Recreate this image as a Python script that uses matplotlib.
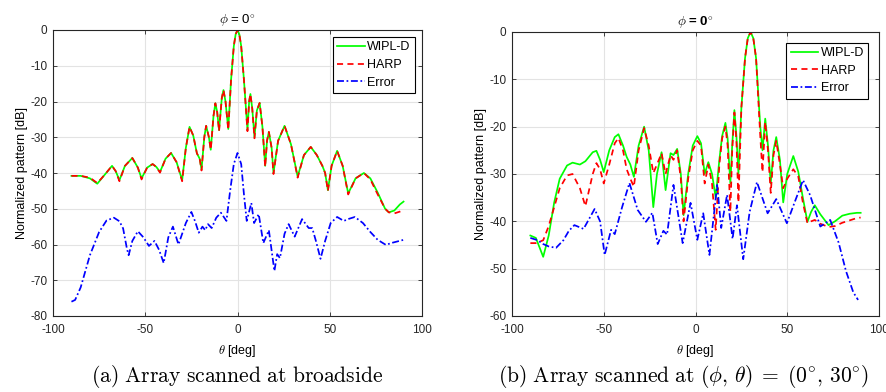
import matplotlib
matplotlib.use("Agg")
import matplotlib.pyplot as plt

plt.rcParams['font.family'] = ['Liberation Sans', 'DejaVu Sans']
plt.rcParams['mathtext.fontset'] = 'cm'
plt.rcParams['axes.unicode_minus'] = False

# ---------------- (a) broadside ----------------
a_theta = [-90, -85, -80, -76, -72, -68, -66, -64, -61, -57, -54, -52, -49, -46, -44, -42,
           -39, -36, -33, -30, -28, -26, -24, -22, -20.5, -19.5, -18, -17, -15.5, -14.5,
           -13, -12, -11, -10, -8.5, -7.6, -6.5, -5, -3.5, -2, -1, 0, 1, 2, 3.5, 5.4, 6.3,
           7, 8, 9.2, 10.5, 12, 13.5, 15, 16, 17, 18.5, 19.5, 22, 25.5, 29, 32.6, 36, 39.7,
           43, 46, 47.5, 49, 51, 54, 57, 60, 64, 68.5, 72, 76, 80, 82, 85, 88, 90]
a_wipl = [-40.8, -40.8, -41.5, -43.0, -40.5, -38.0, -39.5, -42.0, -38.0, -35.8, -38.5, -41.5,
          -38.5, -37.5, -38.3, -39.7, -36.0, -34.4, -37.0, -42.0, -33.0, -27.1, -29.5, -34.5,
          -36.0, -39.0, -30.0, -26.8, -30.0, -33.5, -24.0, -20.5, -23.0, -28.0, -19.0, -16.8,
          -20.0, -27.7, -14.0, -4.5, -1.2, 0.0, -1.2, -4.5, -14.0, -28.0, -20.0, -17.9, -22.0,
          -30.0, -22.5, -20.4, -27.0, -38.0, -31.0, -28.5, -33.0, -40.0, -31.0, -26.8, -32.0,
          -41.0, -35.0, -32.7, -35.0, -38.0, -40.0, -44.8, -38.0, -33.8, -38.0, -45.7, -41.5,
          -40.0, -41.5, -45.5, -50.0, -51.0, -50.5, -48.8, -48.0]
a_harp = [-40.8, -40.8, -41.3, -42.8, -40.5, -38.0, -39.5, -42.3, -38.0, -35.8, -38.5, -41.8,
          -38.5, -37.5, -38.3, -39.9, -36.0, -34.4, -37.0, -42.3, -33.0, -27.1, -29.5, -34.5,
          -36.0, -39.3, -30.0, -26.8, -30.0, -33.5, -24.0, -20.5, -23.0, -28.3, -19.0, -16.8,
          -20.0, -27.9, -14.0, -4.5, -1.2, 0.0, -1.2, -4.5, -14.0, -28.3, -20.0, -17.9, -22.0,
          -30.3, -22.5, -20.4, -27.0, -38.3, -31.0, -28.5, -33.0, -40.3, -31.0, -26.8, -32.0,
          -41.3, -35.0, -32.7, -35.0, -38.0, -40.0, -45.0, -38.0, -33.8, -38.0, -46.0, -41.5,
          -40.0, -41.8, -46.0, -50.0, -51.0, -51.3, -50.8, -50.3]
a_err_theta = [-90, -88, -85, -80, -75, -71, -67, -64, -62, -60, -59, -57, -54, -51, -48, -45,
               -42.5, -40, -37.5, -35, -32, -28, -25, -23, -21, -19, -17.5, -16, -14, -11.5,
               -9, -6, -4, -2, 0, 2, 3.5, 5, 7.5, 9, 11.5, 14, 17, 20, 21.5, 23, 25.5, 27.7,
               31, 35, 38.6, 40.5, 42.5, 45, 47.5, 50.5, 54, 57.6, 60.5, 63.6, 68, 72, 76,
               80.4, 84, 90]
a_err = [-76.0, -75.5, -72.0, -63.0, -56.5, -53.3, -52.5, -53.5, -55.5, -61.0, -63.0, -59.0,
         -56.3, -58.0, -60.4, -59.0, -61.5, -65.2, -58.0, -55.0, -60.0, -54.0, -50.9, -53.5,
         -56.7, -55.0, -56.0, -54.3, -55.4, -52.5, -51.1, -53.4, -45.0, -37.5, -34.4, -37.5,
         -46.0, -53.4, -48.4, -54.0, -51.5, -59.6, -56.0, -67.4, -62.7, -63.8, -57.0, -54.3,
         -57.8, -52.9, -55.4, -55.4, -59.0, -64.0, -59.0, -54.0, -52.3, -53.4, -52.8, -52.3,
         -54.0, -56.5, -58.7, -60.1, -59.5, -58.7]

# ---------------- (b) scanned to 30 deg ----------------
b_theta = [-90, -87, -83, -80, -77, -74, -70, -67, -63, -60, -56, -54, -52, -50, -47, -44,
           -42, -39.5, -37.5, -35.5, -33.6, -31, -28, -25.5, -23, -21, -18.5, -16.3, -13.6,
           -12, -10, -8, -6.5, -4, -1.5, 1, 3, 5, 7, 9, 11, 13, 14.5, 16.3, 17.5, 19, 20,
           21.2, 22.3, 23.4, 25, 27, 28.5, 30, 31.5, 33, 35.3, 36.5, 38, 39.5, 41, 42.5, 44,
           46, 47.8, 50, 53.3, 56, 58.5, 61, 63, 65, 68, 72.5, 76, 80, 84, 88, 90]
b_wipl = [-43.0, -43.5, -47.5, -43.0, -36.0, -31.0, -28.2, -27.6, -28.0, -27.3, -25.4, -25.1,
          -27.0, -29.6, -25.0, -22.2, -21.6, -24.0, -26.4, -28.0, -30.6, -24.0, -20.0, -25.0,
          -37.0, -30.0, -25.4, -33.4, -25.6, -26.0, -24.7, -30.0, -38.7, -30.0, -24.0, -22.0,
          -23.5, -30.0, -27.5, -30.0, -35.0, -27.0, -22.0, -19.2, -22.5, -32.0, -24.0, -16.5,
          -22.0, -30.0, -16.0, -5.5, -1.3, 0.0, -1.3, -5.5, -20.0, -25.0, -18.3, -24.0, -32.0,
          -25.0, -22.2, -27.0, -36.0, -30.0, -26.2, -29.5, -35.0, -40.1, -38.0, -36.6, -38.5,
          -40.8, -40.0, -38.8, -38.4, -38.2, -38.2]
b_harp = [-44.6, -44.6, -44.0, -41.0, -37.0, -33.0, -30.3, -30.0, -33.0, -36.8, -30.0, -27.7,
          -29.0, -32.0, -28.0, -23.5, -22.4, -25.0, -29.0, -31.0, -32.7, -25.0, -20.3, -24.0,
          -29.8, -28.0, -25.6, -30.0, -26.0, -27.0, -25.0, -31.0, -40.0, -31.0, -25.0, -23.0,
          -24.0, -32.0, -28.0, -32.0, -41.8, -28.0, -22.5, -20.0, -24.0, -38.0, -25.0, -17.0,
          -23.0, -36.0, -16.0, -5.5, -1.3, 0.0, -1.3, -5.5, -22.0, -29.6, -19.0, -25.0, -34.0,
          -26.0, -23.0, -28.0, -33.0, -31.0, -29.0, -30.5, -36.0, -40.4, -40.0, -39.7, -40.5,
          -41.2, -41.0, -40.3, -39.8, -39.3, -39.2]
b_err_theta = [-90, -86, -83, -80, -76, -72, -69, -66, -61, -58, -55, -52, -49.5, -46, -44,
               -40, -36, -31.5, -27, -23.5, -20.6, -17.5, -15.5, -12, -7, -2.7, 1, 4.2, 7.6,
               11.8, 14, 17.2, 20.2, 22.6, 26, 29.5, 33.5, 39.3, 44, 49.8, 54, 58.6, 62.5, 68,
               73.4, 78, 82, 86, 88.6]
b_err = [-43.5, -44.0, -44.8, -45.3, -45.6, -44.0, -42.0, -40.8, -41.6, -39.5, -37.4, -40.0,
         -47.1, -41.8, -42.7, -37.0, -31.9, -37.6, -40.1, -38.2, -44.8, -42.0, -42.8, -32.3,
         -44.6, -36.1, -43.9, -38.3, -47.1, -32.3, -41.4, -34.4, -43.7, -36.6, -48.0, -38.0,
         -31.7, -38.3, -35.3, -40.4, -36.0, -31.3, -34.5, -41.1, -39.7, -44.5, -50.5, -55.0,
         -56.6]

W, H = 886, 392
fig = plt.figure(figsize=(W / 100, H / 100), dpi=100)
axA = fig.add_axes([53 / W, 1 - 316 / H, (422 - 53) / W, (316 - 30) / H])
axB = fig.add_axes([512 / W, 1 - 316 / H, (879 - 512) / W, (316 - 32) / H])

spine_col = '#262626'
for ax in (axA, axB):
    ax.set_facecolor('white')
    ax.grid(True, color='#e3e3e3', linewidth=0.8)
    ax.set_axisbelow(True)
    ax.tick_params(direction='in', top=True, right=True, labelsize=8.5,
                   length=3, width=0.6, colors=spine_col)
    ax.tick_params(axis='x', pad=6)
    ax.tick_params(axis='y', pad=4)
    for s in ax.spines.values():
        s.set_color(spine_col)
        s.set_linewidth(0.8)
    ax.set_xlim(-100, 100)
    ax.set_xticks([-100, -50, 0, 50, 100])
    ax.set_xlabel(r'$\theta$ [deg]', fontsize=9, labelpad=5)
    ax.set_ylabel('Normalized pattern [dB]', fontsize=9, labelpad=2)

lw = 1.25
dash = (0, (3.5, 2.5))
dashdot = (0, (4, 1.5, 1, 1.5))
axA.plot(a_theta, a_wipl, color=(0, 1, 0), lw=lw, label='WIPL-D')
axA.plot(a_theta, a_harp, color=(1, 0, 0), lw=lw, ls=dash, label='HARP')
axA.plot(a_err_theta, a_err, color=(0, 0, 1), lw=lw, ls=dashdot, label='Error')
axA.set_ylim(-80, 0)
axA.set_yticks(range(-80, 1, 10))
axA.set_title(r'$\phi$ = 0$^{\circ}$', fontsize=9.5, pad=4)

axB.plot(b_theta, b_wipl, color=(0, 1, 0), lw=lw, label='WIPL-D')
axB.plot(b_theta, b_harp, color=(1, 0, 0), lw=lw, ls=dash, label='HARP')
axB.plot(b_err_theta, b_err, color=(0, 0, 1), lw=lw, ls=dashdot, label='Error')
axB.set_ylim(-60, 0)
axB.set_yticks(range(-60, 1, 10))
axB.set_title(r'$\phi$ = 0$^{\circ}$', fontsize=9.5, pad=4, fontweight='bold')

for ax, bax in ((axA, 0.55), (axB, 0.85)):
    leg = ax.legend(loc='upper right', fontsize=9, frameon=True, fancybox=False,
                    edgecolor='black', framealpha=1, borderpad=0.35, labelspacing=0.45,
                    handlelength=2.2, handletextpad=0.2, borderaxespad=bax)
    leg.get_frame().set_linewidth(0.8)

fig.text(237 / W, 1 - 376 / H, r'$\mathrm{(a)\ Array\ scanned\ at\ broadside}$',
         ha='center', va='center', fontsize=15.5)
fig.text(684 / W, 1 - 376 / H,
         r'$\mathrm{(b)\ Array\ scanned\ at\ }(\phi,\,\theta)\;=\;(0^{\circ},\,30^{\circ})$',
         ha='center', va='center', fontsize=15.5)

fig.savefig('out.png', dpi=100)
